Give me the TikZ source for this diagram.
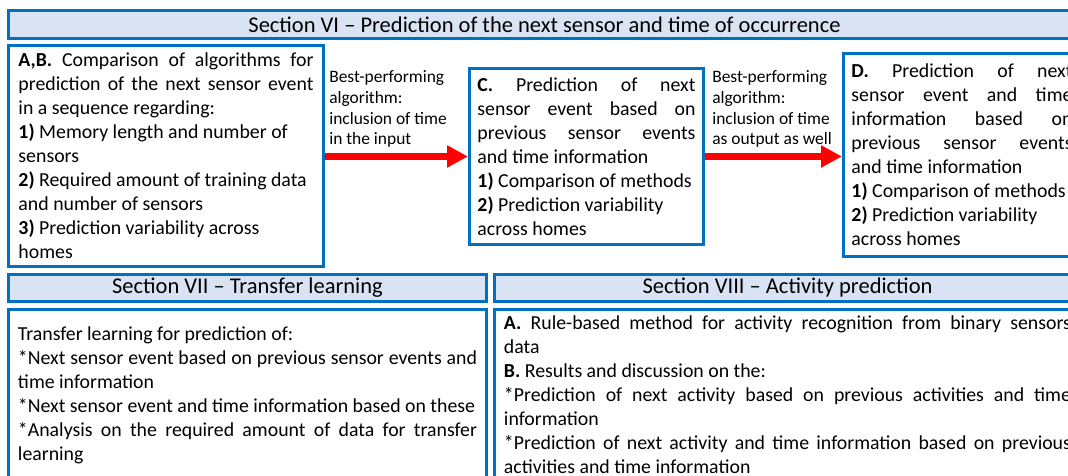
\documentclass[tikz,border=0pt]{standalone}
\usepackage{fontspec}
\setmainfont{Carlito}
\usetikzlibrary{arrows.meta}
\definecolor{secblue}{RGB}{0,112,192}
\definecolor{headfill}{RGB}{218,227,243}
\definecolor{flowred}{RGB}{255,0,0}
\tikzset{
  secbox/.style={draw=secblue, line width=2.1pt, anchor=north west, inner ysep=0pt},
  headbox/.style={secbox, fill=headfill, font=\fontsize{16}{19}\selectfont},
  textbox/.style={secbox, align=justify, inner xsep=0.2cm, font=\fontsize{14.1}{17.1}\selectfont},
  flowlabel/.style={anchor=north west, inner sep=0pt, align=left, font=\fontsize{12.4}{14.7}\selectfont},
  flow/.style={draw=flowred, line width=5pt, -{Triangle[length=0.525cm,width=0.525cm]}}
}

\begin{document}
\begin{tikzpicture}
\useasboundingbox (0,0) rectangle (26.7,-11.9);
\clip (0,0) rectangle (26.7,-11.9);
\node[headbox, minimum width=26.8cm, minimum height=0.7cm] (secvi) at (0.175,-0.225) {Section VI -- Prediction of the next sensor and time of occurrence};
\node[textbox, text width=7.375cm, inner xsep=0.25cm, minimum height=5.525cm] (abbox) at (0.175,-1.1)
  {\textbf{A,B.} Comparison of algorithms for\linebreak prediction of the next sensor event\linebreak in a sequence regarding:\\
   \textbf{1)} Memory length and number of\\ sensors\\
   \textbf{2)} Required amount of training data\\ and number of sensors\\
   \textbf{3)} Prediction variability across\\ homes};
\node[textbox, text width=5.45cm, minimum height=4.4cm] (cbox) at (11.7,-1.675)
  {\textbf{C.} Prediction of next\linebreak sensor event based on\linebreak previous sensor events\linebreak and time information\\
   \textbf{1)} Comparison of methods\\
   \textbf{2)} Prediction variability\\ across homes};
\node[textbox, text width=5.525cm, minimum height=5.075cm] (dbox) at (21.05,-1.3)
  {\textbf{D.} Prediction of next\linebreak sensor event and time\linebreak information based on\linebreak previous sensor events\linebreak and time information\\
   \textbf{1)} Comparison of methods\\
   \textbf{2)} Prediction variability\\ across homes};
\node[flowlabel] (lblc) at (8.225,-1.765) {Best-performing\\ algorithm:\\ inclusion of time\\ in the input};
\node[flowlabel] (lbld) at (17.8,-1.765) {Best-performing\\ algorithm:\\ inclusion of time\\ as output as well};
\draw[flow] (abbox.east |- cbox.west) -- (cbox.west);
\draw[flow] (cbox.east) -- (cbox.east -| dbox.west);
\node[headbox, minimum width=11.95cm, minimum height=0.675cm] (secvii) at (0.175,-6.825) {Section VII -- Transfer learning};
\node[headbox, minimum width=14.65cm, minimum height=0.675cm] (secviii) at (12.325,-6.825) {Section VIII -- Activity prediction};
\node[textbox, text width=11.475cm, inner xsep=0.2375cm, minimum height=4.275cm] (tlbox) at (0.175,-7.7)
  {Transfer learning for prediction of:\\
   {*}Next sensor event based on previous sensor events and\linebreak time information\\
   {*}Next sensor event and time information based on these\\
   {*}Analysis on the required amount of data for transfer\linebreak learning};
\node[textbox, text width=14.175cm, inner xsep=0.2375cm, minimum height=4.275cm] (apbox) at (12.325,-7.7)
  {\textbf{A.} Rule-based method for activity recognition from binary sensors\linebreak data\\
   \textbf{B.} Results and discussion on the:\\
   {*}Prediction of next activity based on previous activities and time\linebreak information\\
   {*}Prediction of next activity and time information based on previous\linebreak activities and time information};
\end{tikzpicture}
\end{document}
